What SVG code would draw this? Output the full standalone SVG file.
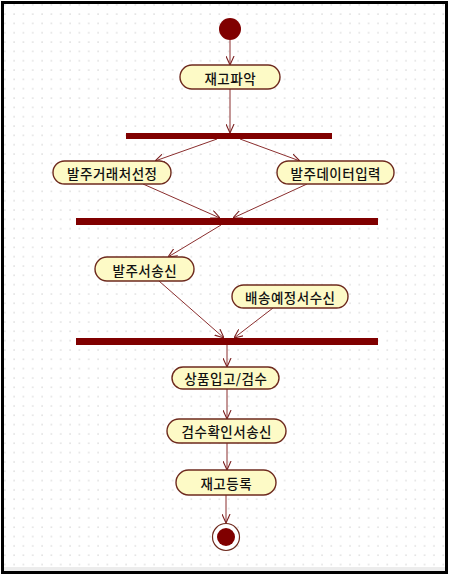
<svg xmlns="http://www.w3.org/2000/svg" width="450" height="577" viewBox="0 0 450 577">
<defs>
<pattern id="dots" x="0" y="0" width="9.33" height="9.33" patternUnits="userSpaceOnUse">
<rect x="4" y="4" width="1.6" height="1.6" fill="#e2e2e2"/>
</pattern>
<marker id="arr" viewBox="0 0 10 10" refX="10" refY="5" markerWidth="9" markerHeight="9" markerUnits="userSpaceOnUse" orient="auto">
<path d="M0,0.5 L10,5 L0,9.5" fill="none" stroke="#7a1f1f" stroke-width="1.2"/>
</marker>
<style>
.node rect{fill:#fdfac6;stroke:#6e2a1e;stroke-width:1.4}
.node text{font-family:"Noto Sans CJK KR","Noto Sans",sans-serif;font-size:13.5px;font-weight:500;letter-spacing:0.5px;fill:#111;text-anchor:middle;dominant-baseline:central}
.bar{fill:#800000}
.edges line{stroke:#8a2e2e;stroke-width:1;marker-end:url(#arr)}
</style>
</defs>
<rect x="0" y="0" width="450" height="577" fill="#ffffff"/>
<rect x="3" y="3" width="444" height="569" fill="url(#dots)"/>
<rect x="4" y="567" width="442" height="4" fill="#ececec"/>
<rect x="2.5" y="2.5" width="444" height="570" fill="none" stroke="#000" stroke-width="3"/>

<g id="start"><circle cx="230" cy="29" r="11" fill="#800000"/></g>

<g class="edges" id="connectors">
<line x1="230" y1="40" x2="230" y2="65"/>
<line x1="230" y1="89" x2="230" y2="133"/>
<line x1="217" y1="139" x2="155" y2="161"/>
<line x1="240" y1="139" x2="300" y2="161"/>
<line x1="143" y1="184" x2="220" y2="218"/>
<line x1="307" y1="184" x2="233" y2="218"/>
<line x1="221" y1="225" x2="168" y2="257"/>
<line x1="159" y1="281" x2="224" y2="338"/>
<line x1="273" y1="308" x2="234" y2="338"/>
<line x1="227" y1="345" x2="227" y2="367"/>
<line x1="227" y1="389" x2="227" y2="419"/>
<line x1="227" y1="443" x2="227" y2="470"/>
<line x1="226" y1="495" x2="226" y2="523"/>
</g>

<g id="fork1"><rect class="bar" x="126" y="133" width="206" height="6"/></g>
<g id="join1"><rect class="bar" x="76" y="218" width="302" height="7"/></g>
<g id="join2"><rect class="bar" x="76" y="338" width="302" height="7"/></g>

<g class="node" id="n1"><rect x="180" y="65" width="100" height="24" rx="12"/><text x="230.3" y="77.5">재고파악</text></g>
<g class="node" id="n2"><rect x="53" y="161" width="118" height="23" rx="11.5"/><text x="112.3" y="172.5">발주거래처선정</text></g>
<g class="node" id="n3"><rect x="277" y="161" width="117" height="23" rx="11.5"/><text x="335.8" y="172.5">발주데이터입력</text></g>
<g class="node" id="n4"><rect x="95" y="257" width="99" height="24" rx="12"/><text x="144.8" y="269.5">발주서송신</text></g>
<g class="node" id="n5"><rect x="232" y="285" width="116" height="23" rx="11.5"/><text x="290.3" y="296.5">배송예정서수신</text></g>
<g class="node" id="n6"><rect x="172" y="367" width="107" height="22" rx="11"/><text x="225.8" y="378">상품입고/검수</text></g>
<g class="node" id="n7"><rect x="167" y="419" width="119" height="24" rx="12"/><text x="226.8" y="431">검수확인서송신</text></g>
<g class="node" id="n8"><rect x="176" y="470" width="100" height="25" rx="12.5"/><text x="226.3" y="482.5">재고등록</text></g>

<g id="end"><circle cx="226" cy="537" r="13.5" fill="#fff" stroke="#6e2a1e" stroke-width="1.2"/><circle cx="226" cy="537" r="9" fill="#800000"/></g>
</svg>
